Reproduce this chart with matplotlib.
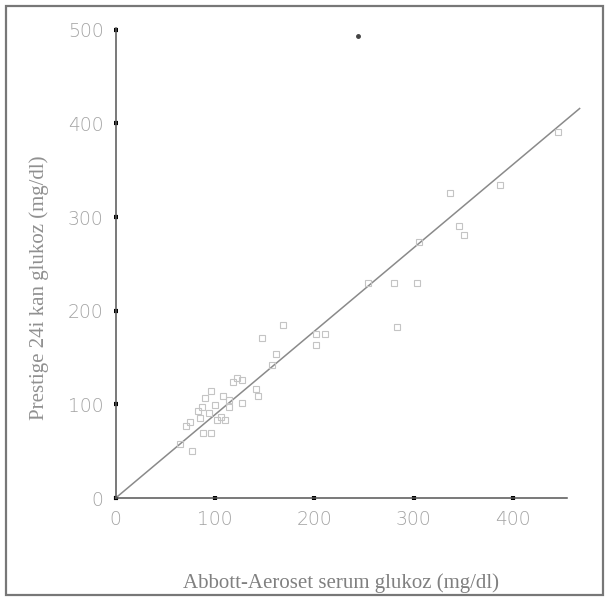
import matplotlib
matplotlib.use("Agg")
import matplotlib.pyplot as plt
from matplotlib.patches import Rectangle

# Data
abbott = [445, 387, 337, 346, 351, 305, 280, 303, 283, 254, 202, 211, 202, 168,
          147, 161, 157, 122, 127, 141, 143, 127, 108, 114, 96, 90, 87, 83, 94,
          102, 110, 75, 71, 88, 96, 77, 65, 118, 100, 106, 85, 114]
prestige = [391, 334, 326, 291, 281, 273, 230, 230, 183, 230, 175, 175, 163, 185,
            171, 154, 142, 128, 126, 116, 109, 101, 109, 105, 114, 107, 97, 93, 91,
            83, 83, 81, 77, 69, 69, 50, 58, 124, 99, 87, 85, 97]
line_x = [0, 467]
line_y = [0, 416]
stray_x = [244]
stray_y = [493]
xticks = [0, 100, 200, 300, 400]
yticks = [0, 100, 200, 300, 400, 500]

W, H = 607, 598
fig = plt.figure(figsize=(W / 100, H / 100), dpi=100)
fig.patch.set_facecolor("white")

ax = fig.add_axes([115.7 / W, 1 - 498 / H, 451 / W, 470 / H])
ax.set_xlim(0, 454)
ax.set_ylim(0, 502)

ax.plot(line_x, line_y, color="#8a8a8a", lw=1.1, clip_on=False, zorder=2)
ax.plot(abbott, prestige, linestyle="none", marker="s", markersize=4.3,
        markerfacecolor="none", markeredgecolor="#c4c4c4", markeredgewidth=0.8,
        clip_on=False, zorder=3)
ax.plot(stray_x, stray_y, linestyle="none", marker="o", markersize=2.5,
        color="#444444", clip_on=False, zorder=3)

for s in ["top", "right"]:
    ax.spines[s].set_visible(False)
for s in ["left", "bottom"]:
    ax.spines[s].set_color("#555555")
    ax.spines[s].set_linewidth(1.1)

ax.set_xticks(xticks)
ax.set_yticks(yticks)
ax.tick_params(direction="inout", length=3.5, width=3, color="black",
               labelsize=13.5, labelcolor="#a3a3a3", pad=7)
for lab in ax.get_xticklabels() + ax.get_yticklabels():
    lab.set_family("DejaVu Sans")
    lab.set_fontweight("light")

fig.text(341 / W, 1 - 583 / H, "Abbott-Aeroset serum glukoz (mg/dl)",
         family="Liberation Serif", fontsize=15, color="#808080",
         ha="center", va="center")
fig.text(39 / W, 1 - 288 / H, "Prestige 24i kan glukoz (mg/dl)",
         family="Liberation Serif", fontsize=15, color="#909090",
         ha="center", va="center", rotation=90)

fig.patches.append(Rectangle((6 / W, 1 - 595 / H), 597 / W, 589 / H,
                             transform=fig.transFigure, fill=False,
                             edgecolor="#777777", linewidth=1.6))

fig.savefig("out.png", dpi=100)
